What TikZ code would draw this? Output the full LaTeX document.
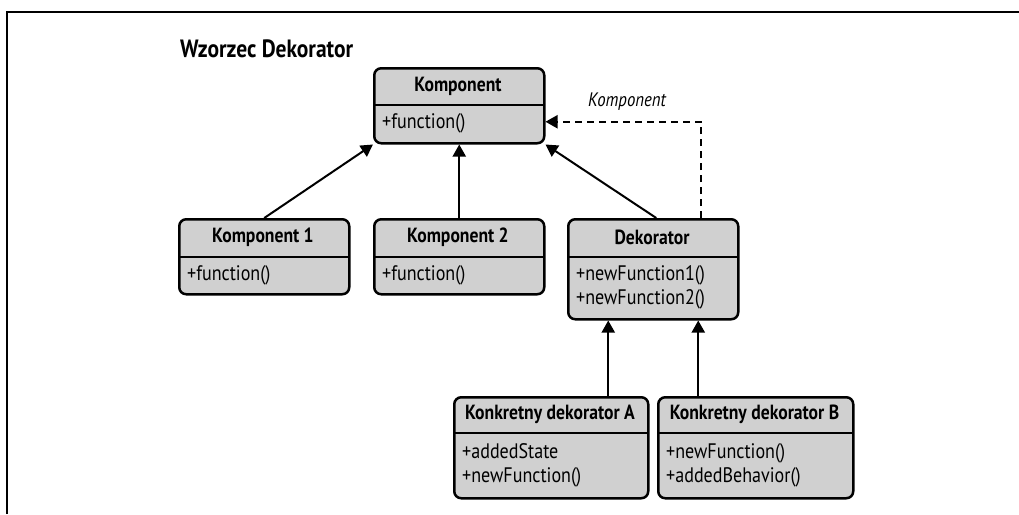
\documentclass[tikz,border=0pt]{standalone}
\usepackage{fontspec}
\setmainfont{PT Sans}[FakeStretch=0.86]
\usetikzlibrary{arrows.meta,calc}
\definecolor{boxgray}{RGB}{208,208,208}
\tikzset{
  classbox/.style={draw, line width=2.5pt, rounded corners=7pt, fill=boxgray, inner sep=0pt, anchor=north west},
  headtext/.style={font=\fontsize{20.5}{23}\selectfont\bfseries, inner sep=0pt},
  membertext/.style={font=\fontsize{21}{24}\selectfont, inner sep=0pt, anchor=west, align=left},
  divider/.style={line width=2.5pt},
  inherit/.style={line width=2pt, -{Triangle[length=12pt,width=13pt]}},
  dep/.style={line width=2pt, dash pattern=on 7pt off 5pt, -{Triangle[length=12pt,width=13pt]}},
  frameline/.style={line width=2.5pt},
}
% name, x1, y1, x2, ydiv, y2, title, members
\newcommand\umlclass[8]{%
  \node[classbox, minimum width={(#4-#2)*1pt}, minimum height={(#6-#3)*1pt}] (#1) at (#2,#3) {};
  \coordinate (#1-d1) at (#2,#5);
  \coordinate (#1-d2) at (#4,#5);
  \draw[divider] (#1-d1) -- (#1-d2);
  \node[headtext] (#1-title) at ({(#2+#4)/2},{(#3+#5)/2}) {#7};
  \node[membertext] (#1-members) at ({#2+9},{(#5+#6)/2}) {#8};
}
\begin{document}
\begin{tikzpicture}[x=1pt,y=-1pt]
  \useasboundingbox (0,0) rectangle (1019,514);
  \coordinate (f1) at (7,514);
  \coordinate (f2) at (7,12);
  \coordinate (f3) at (1019,12);
  \draw[frameline] (f1) -- (f2) -- (f3);

  \node[font=\fontsize{25}{28}\selectfont\bfseries, inner sep=0pt, anchor=west] (title) at (180,49) {Wzorzec Dekorator};

  \umlclass{komp}{373}{67}{543}{105}{142}{Komponent}{+function()}
  \umlclass{k1}{178}{218}{348}{257}{293}{Komponent 1}{+function()}
  \umlclass{k2}{373}{218}{543}{257}{293}{Komponent 2}{+function()}
  \umlclass{dek}{567}{218}{737}{257}{318}{Dekorator}{+newFunction1()\\+newFunction2()}
  \umlclass{ka}{453}{396}{647}{433}{497}{Konkretny dekorator A}{+addedState\\+newFunction()}
  \umlclass{kb}{657}{396}{852}{433}{497}{Konkretny dekorator B}{+newFunction()\\+addedBehavior()}

  \draw[inherit] (k1.north) -- (komp.south west);
  \draw[inherit] (k2.north) -- (komp.south);
  \draw[inherit] ([xshift=3pt]dek.north) -- (komp.south east);

  \coordinate (dstart) at ([xshift=48pt]dek.north);
  \coordinate (dend) at ([yshift=-16pt]komp.east);
  \draw[dep] (dstart) |- (dend);
  \node[font=\fontsize{19.5}{22}\selectfont\itshape, inner sep=0pt] (deplabel) at (627,102) {Komponent};

  \coordinate (astart) at ([xshift=57pt]ka.north);
  \draw[inherit] (astart) -- (astart |- dek.south);
  \coordinate (bstart) at ([xshift=-57.5pt]kb.north);
  \draw[inherit] (bstart) -- (bstart |- dek.south);
\end{tikzpicture}
\end{document}
